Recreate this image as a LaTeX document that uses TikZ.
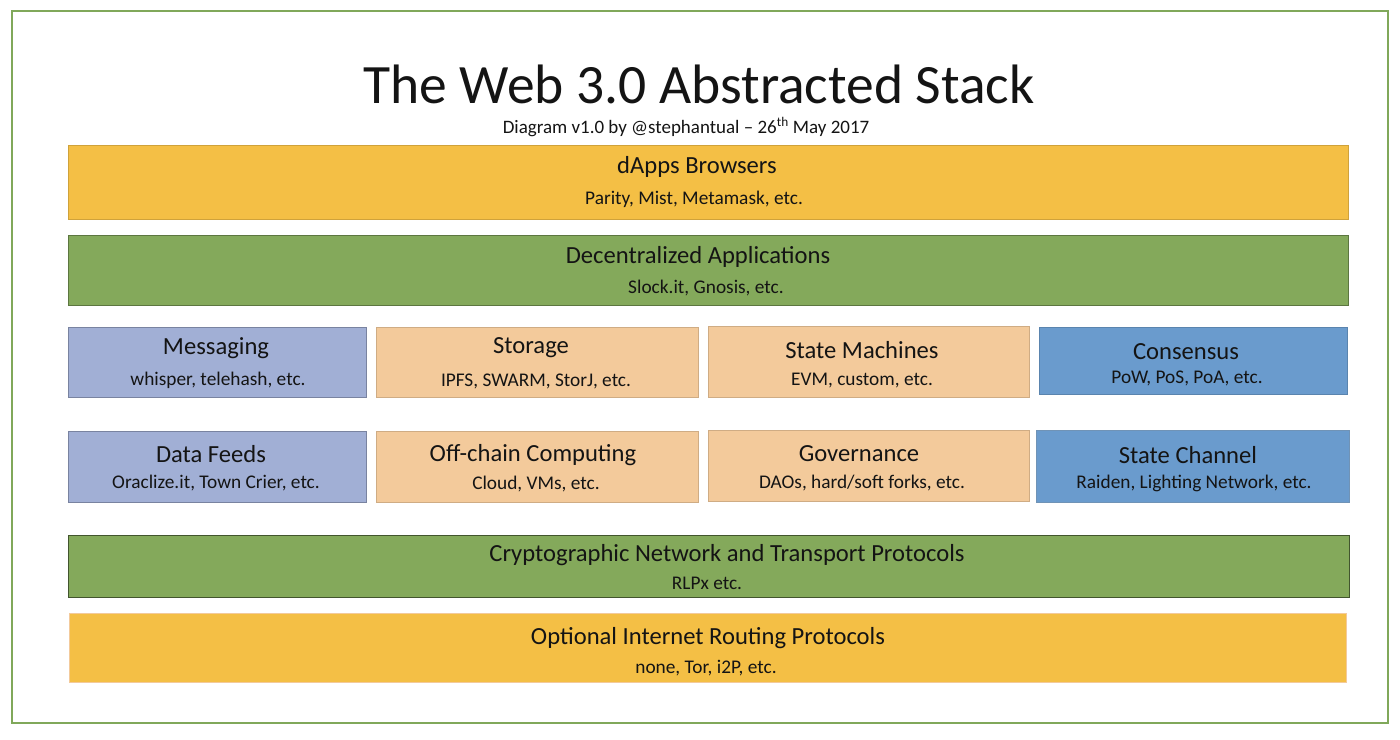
\documentclass[tikz,border=0pt]{standalone}
\usepackage{fontspec}
\setmainfont{Carlito}
\usetikzlibrary{fit}
\definecolor{cOrange}{HTML}{F4BF45}
\definecolor{cGreen}{HTML}{84A95B}
\definecolor{cLav}{HTML}{A1AFD5}
\definecolor{cPeach}{HTML}{F3CA9B}
\definecolor{cBlue}{HTML}{6A9BCD}
\definecolor{cFrame}{HTML}{80A85A}
\definecolor{cInk}{HTML}{141414}
\tikzset{
  box/.style={inner sep=0pt, line width=0.8pt},
  obox/.style={box, fill=cOrange, draw=cOrange!85!black},
  gbox/.style={box, fill=cGreen, draw=cGreen!70!black},
  lbox/.style={box, fill=cLav, draw=cLav!75!black},
  pbox/.style={box, fill=cPeach, draw=cPeach!85!black},
  bbox/.style={box, fill=cBlue, draw=cBlue!85!black},
  hd/.style={inner sep=0pt, text=cInk, font=\fontsize{35}{40}\selectfont},
  sb/.style={inner sep=0pt, text=cInk, font=\fontsize{27.5}{32}\selectfont},
}
\begin{document}
\begin{tikzpicture}[x=0.05cm, y=-0.05cm]
\useasboundingbox (0,0) rectangle (1400,739);
\fill[white] (0,0) rectangle (1400,739);
\node[box, draw=cFrame, line width=2.2pt, fit={(12,11)(1388,723)}] (frame) {};
\node[inner sep=0pt, text=cInk, font=\fontsize{79}{90}\selectfont] (title) at (699,84) {The Web 3.0 Abstracted Stack};
\node[inner sep=0pt, text=cInk, font=\fontsize{27}{31}\selectfont] (subtitle) at (686,127) {Diagram v1.0 by @stephantual – 26\textsuperscript{th} May 2017};

\node[obox, fit={(68,145)(1348,219)}] (dapps) {};
\node[hd] (dappsH) at (697,167) {dApps Browsers};
\node[sb] (dappsS) at (694,199) {Parity, Mist, Metamask, etc.};

\node[gbox, fit={(68,235)(1348,305)}] (dec) {};
\node[hd] (decH) at (698,257) {Decentralized Applications};
\node[sb] (decS) at (706,288) {Slock.it, Gnosis, etc.};

\node[lbox, fit={(68,327)(366,397)}] (msg) {};
\node[hd] (msgH) at (216,348) {Messaging};
\node[sb] (msgS) at (218,380) {whisper, telehash, etc.};

\node[pbox, fit={(376,327)(698,397)}] (sto) {};
\node[hd] (stoH) at (531,348) {Storage};
\node[sb] (stoS) at (536,381) {IPFS, SWARM, StorJ, etc.};

\node[pbox, fit={(708,326)(1029,397)}] (sm) {};
\node[hd] (smH) at (862,350) {State Machines};
\node[sb] (smS) at (862,381) {EVM, custom, etc.};

\node[bbox, fit={(1039,327)(1347,394)}] (con) {};
\node[hd] (conH) at (1186,352) {Consensus};
\node[sb] (conS) at (1187,378) {PoW, PoS, PoA, etc.};

\node[lbox, fit={(68,431)(366,502)}] (df) {};
\node[hd] (dfH) at (211,454) {Data Feeds};
\node[sb] (dfS) at (216,483) {Oraclize.it, Town Crier, etc.};

\node[pbox, fit={(376,431)(698,502)}] (off) {};
\node[hd] (offH) at (533,455) {Off-chain Computing};
\node[sb] (offS) at (536,484) {Cloud, VMs, etc.};

\node[pbox, fit={(708,430)(1029,501)}] (gov) {};
\node[hd] (govH) at (859,454) {Governance};
\node[sb] (govS) at (862,483) {DAOs, hard/soft forks, etc.};

\node[bbox, draw=cBlue!70!gray, fit={(1036,430)(1349,502)}] (sc) {};
\node[hd] (scH) at (1188,455) {State Channel};
\node[sb] (scS) at (1194,483) {Raiden, Lighting Network, etc.};

\node[gbox, draw=cGreen!50!black, fit={(68,535)(1349,597)}] (cry) {};
\node[hd] (cryH) at (727,555) {Cryptographic Network and Transport Protocols};
\node[sb] (cryS) at (707,583) {RLPx etc.};

\node[obox, draw=cPeach, fit={(69,613)(1346,682)}] (opt) {};
\node[hd] (optH) at (708,638) {Optional Internet Routing Protocols};
\node[sb] (optS) at (706,668) {none, Tor, i2P, etc.};
\end{tikzpicture}
\end{document}
